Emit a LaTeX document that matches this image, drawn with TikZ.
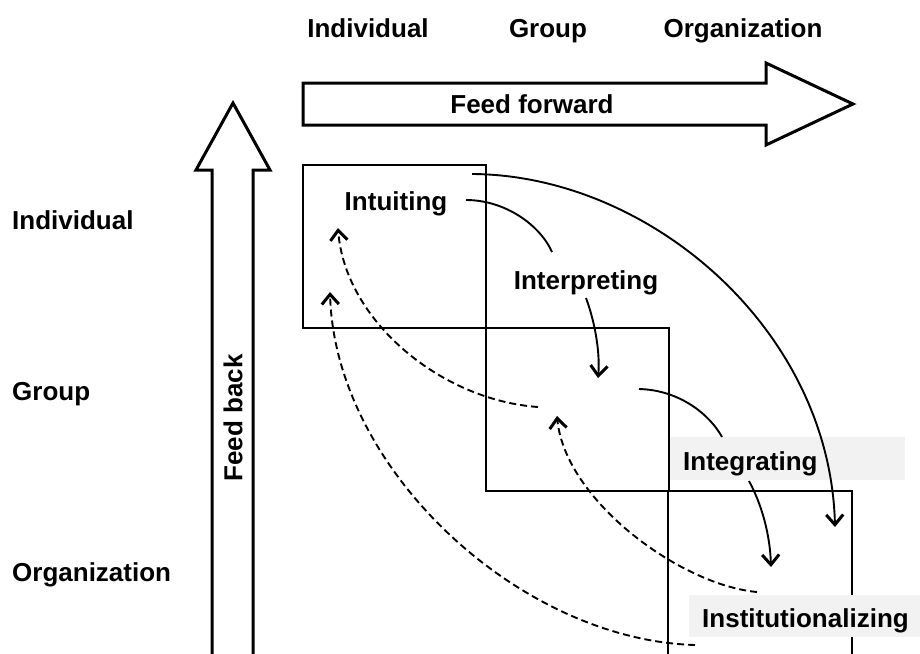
\documentclass[tikz,border=0pt]{standalone}
\usepackage{fontspec}
\setmainfont{Liberation Sans}
\usetikzlibrary{arrows.meta}
\begin{document}
\begin{tikzpicture}[x=1pt,y=-1pt,
  lbl/.style={font=\fontsize{26}{31}\selectfont\bfseries,inner sep=0pt,anchor=base},
  shade/.style={lbl,anchor=base west,fill=black!5,inner xsep=13pt,text depth=10pt,align=left},
  box/.style={line width=2pt},
  big/.style={line width=3pt,line join=miter},
  flow/.style={line width=1.9pt},
  tip/.style={-{Straight Barb[length=10pt,width=17pt,line width=3pt]}},
  back/.style={flow,dash pattern=on 7pt off 4pt}]
\useasboundingbox (0,0) rectangle (920,653);
\node[lbl] (0) at (368,37) {Individual};
\node[lbl] (1) at (548,37) {Group};
\node[lbl] (2) at (743,37) {Organization};
\node[lbl,anchor=base west] (3) at (12,229) {Individual};
\node[lbl,anchor=base west] (4) at (12,400) {Group};
\node[lbl,anchor=base west] (5) at (12,581) {Organization};
\draw[big] (303,83)--(766,83)--(766,63)--(853,104)--(766,145)--(766,125)--(303,125)--cycle;
\node[lbl] (6) at (532,113) {Feed forward};
\draw[big] (212,662)--(212,170)--(196,170)--(233,103)--(270,170)--(253,170)--(253,662);
\node[lbl,anchor=center,rotate=90] (7) at (233,418) {Feed back};
\draw[box] (303,165) rectangle (486,328);
\draw[box] (486,328) rectangle (669,491);
\draw[box] (668,491) rectangle (852,662);
\node[lbl] (8) at (396,210) {Intuiting};
\node[lbl] (9) at (586,289) {Interpreting};
\node[shade,text height=33pt,text width=209pt] (10) at (670,470) {Integrating};
\node[shade,text height=32pt,text width=215pt] (11) at (689,627) {Institutionalizing};
\coordinate (a) at (466,200);
\coordinate (b) at (552,252);
\coordinate (c) at (586,298);
\coordinate (d) at (598,378);
\coordinate (e) at (639,389);
\coordinate (f) at (722,437);
\coordinate (g) at (749,481);
\coordinate (h) at (771,567);
\coordinate (i) at (472,174);
\coordinate (j) at (835,527);
\coordinate (k) at (538,407);
\coordinate (l) at (338,228);
\coordinate (m) at (757,592);
\coordinate (n) at (557,416);
\coordinate (o) at (695,645);
\coordinate (p) at (330,292);
\draw[flow] (a) .. controls (505,200) and (540,225) .. (b);
\draw[flow,tip] (c) .. controls (596,325) and (600,355) .. (d);
\draw[flow] (e) .. controls (680,390) and (710,415) .. (f);
\draw[flow,tip] (g) .. controls (762,505) and (770,535) .. (h);
\draw[flow,tip] (i) .. controls (650,175) and (830,330) .. (j);
\draw[back,tip] (k) .. controls (440,400) and (345,320) .. (l);
\draw[back,tip] (m) .. controls (680,585) and (565,500) .. (n);
\draw[back,tip] (o) .. controls (520,640) and (335,470) .. (p);
\end{tikzpicture}
\end{document}
